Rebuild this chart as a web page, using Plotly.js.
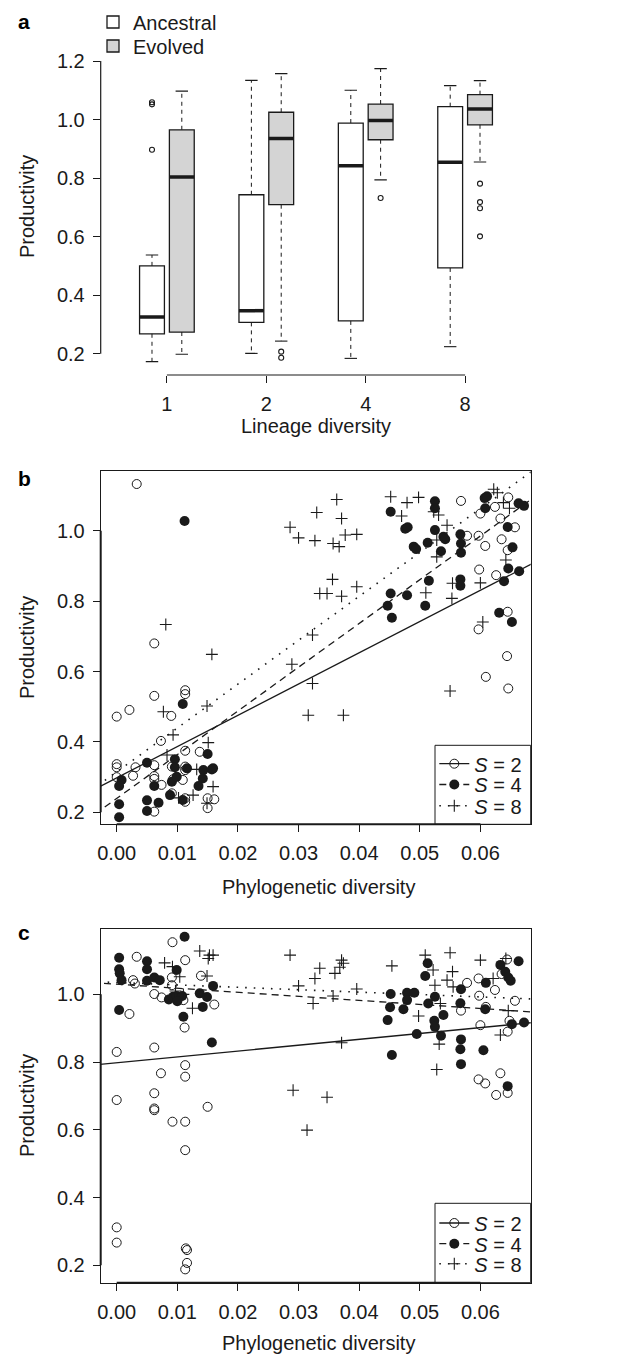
<!DOCTYPE html>
<html><head><meta charset="utf-8">
<script src="https://cdn.plot.ly/plotly-3.0.1.min.js"></script>
<style>html,body{margin:0;padding:0;background:#fff}#chart{width:619px;height:1355px}</style>
</head><body><div id="chart"></div>
<script>
// ---------------- Panel a: lineage diversity boxplots ----------------
const groupLabels = ['1', '2', '4', '8'];
const yTicksA = [0.2, 0.4, 0.6, 0.8, 1.0, 1.2];

const ancestralQ1     = [0.268, 0.307, 0.312, 0.493];
const ancestralMedian = [0.325, 0.347, 0.842, 0.854];
const ancestralQ3     = [0.500, 0.743, 0.988, 1.044];
const ancestralLow    = [0.173, 0.201, 0.184, 0.224];
const ancestralHigh   = [0.537, 1.134, 1.100, 1.116];
const ancestralOutGroup = ['1', '1', '1'];
const ancestralOutValue = [1.059, 1.052, 0.897];

const evolvedQ1     = [0.274, 0.709, 0.931, 0.982];
const evolvedMedian = [0.804, 0.935, 0.997, 1.036];
const evolvedQ3     = [0.965, 1.025, 1.053, 1.085];
const evolvedLow    = [0.198, 0.243, 0.794, 0.855];
const evolvedHigh   = [1.097, 1.157, 1.174, 1.133];
const evolvedOutGroup = ['2', '2', '4', '8', '8', '8', '8'];
const evolvedOutValue = [0.207, 0.186, 0.732, 0.781, 0.718, 0.697, 0.601];

// ---------------- Panel b ----------------
const xTicksPD = [0.00, 0.01, 0.02, 0.03, 0.04, 0.05, 0.06];
const yTicksBC = [0.2, 0.4, 0.6, 0.8, 1.0];

const bS2x = [0.0033, 0.0062, 0.0568, 0.0646, 0.0600, 0.0624, 0.0633, 0.0657, 0.0578, 0.0597, 0.0608, 0.0635, 0.0645, 0.0598, 0.0626, 0.0645, 0.0597, 0.0644, 0.0609, 0.0646,
  0.0000, 0.0021, 0.0062, 0.0113, 0.0113, 0.0090, 0.0073, 0.0000, 0.0000, 0.0031, 0.0027, 0.0000, 0.0113, 0.0137, 0.0062, 0.0062, 0.0062, 0.0074, 0.0091, 0.0113,
  0.0113, 0.0109, 0.0091, 0.0113, 0.0113, 0.0062, 0.0150, 0.0150, 0.0161, 0.0093];
const bS2y = [1.133, 0.680, 1.085, 1.095, 1.049, 1.068, 1.035, 1.010, 0.986, 0.986, 0.957, 0.976, 0.945, 0.890, 0.874, 0.770, 0.720, 0.644, 0.585, 0.552,
  0.472, 0.491, 0.531, 0.547, 0.536, 0.474, 0.403, 0.337, 0.328, 0.328, 0.304, 0.300, 0.375, 0.372, 0.334, 0.303, 0.295, 0.278, 0.330, 0.330,
  0.320, 0.292, 0.254, 0.240, 0.230, 0.202, 0.240, 0.212, 0.237, 0.294];

const bS4x = [0.0112, 0.0452, 0.0476, 0.0480, 0.0525, 0.0525, 0.0525, 0.0539, 0.0542, 0.0490, 0.0494, 0.0513, 0.0535, 0.0567, 0.0568, 0.0568, 0.0515, 0.0567, 0.0567, 0.0452,
  0.0479, 0.0447, 0.0509, 0.0454, 0.0607, 0.0611, 0.0608, 0.0663, 0.0672, 0.0645, 0.0653, 0.0646, 0.0664, 0.0639, 0.0631, 0.0652,
  0.0109, 0.0050, 0.0008, 0.0004, 0.0004, 0.0004, 0.0050, 0.0050, 0.0069, 0.0062, 0.0096, 0.0096, 0.0091, 0.0099, 0.0088, 0.0109, 0.0116, 0.0150, 0.0143, 0.0157,
  0.0142, 0.0135, 0.0159];
const bS4y = [1.028, 1.054, 1.006, 1.010, 1.084, 1.064, 1.002, 0.983, 0.976, 0.955, 0.948, 0.966, 0.942, 0.990, 0.964, 0.938, 0.858, 0.862, 0.844, 0.822,
  0.817, 0.787, 0.787, 0.753, 1.093, 1.098, 1.064, 1.078, 1.071, 1.011, 0.953, 0.893, 0.885, 0.857, 0.767, 0.741,
  0.508, 0.341, 0.292, 0.275, 0.223, 0.186, 0.234, 0.204, 0.227, 0.275, 0.351, 0.328, 0.287, 0.301, 0.249, 0.235, 0.325, 0.366, 0.320, 0.322,
  0.296, 0.275, 0.325];

const bS8x = [0.0286, 0.0300, 0.0081, 0.0157, 0.0289, 0.0363, 0.0330, 0.0371, 0.0327, 0.0357, 0.0367, 0.0377, 0.0396, 0.0452, 0.0479, 0.0498, 0.0470, 0.0531, 0.0523, 0.0545,
  0.0528, 0.0528, 0.0356, 0.0335, 0.0347, 0.0371, 0.0396, 0.0323, 0.0323, 0.0510, 0.0554, 0.0553, 0.0600, 0.0604, 0.0622, 0.0628, 0.0638, 0.0648, 0.0642,
  0.0149, 0.0077, 0.0093, 0.0151, 0.0083, 0.0132, 0.0159, 0.0126, 0.0102, 0.0149, 0.0316, 0.0374, 0.0550];
const bS8y = [1.010, 0.980, 0.734, 0.649, 0.621, 1.089, 1.052, 1.035, 0.972, 0.964, 0.955, 0.988, 0.990, 1.097, 1.080, 1.095, 1.042, 1.045, 1.054, 1.016,
  0.974, 0.926, 0.862, 0.822, 0.822, 0.814, 0.841, 0.704, 0.566, 0.824, 0.851, 0.808, 0.852, 0.741, 1.118, 1.108, 1.080, 1.064, 0.917,
  0.502, 0.486, 0.420, 0.398, 0.363, 0.322, 0.273, 0.249, 0.241, 0.226, 0.476, 0.476, 0.545];

// fitted lines (intercept at PD = 0, slope) for S = 2, 4, 8
const bLineIntercept = [0.298, 0.2395, 0.315];
const bLineSlope     = [8.88, 12.43, 12.47];

// ---------------- Panel c ----------------
const cS2x = [0.0092, 0.0033, 0.0113, 0.0027, 0.0030, 0.0091, 0.0091, 0.0062, 0.0074, 0.0110, 0.0139, 0.0161, 0.0021, 0.0112, 0.0000, 0.0062, 0.0113, 0.0113, 0.0073, 0.0062,
  0.0062, 0.0062, 0.0000, 0.0150, 0.0092, 0.0113, 0.0113, 0.0000, 0.0000, 0.0114, 0.0116, 0.0116, 0.0113,
  0.0578, 0.0597, 0.0624, 0.0598, 0.0568, 0.0609, 0.0600, 0.0657, 0.0644, 0.0635, 0.0648, 0.0645, 0.0597, 0.0608, 0.0633, 0.0626, 0.0645];
const cS2y = [1.154, 1.111, 1.101, 1.042, 1.032, 1.050, 1.027, 1.001, 0.991, 0.983, 1.055, 0.970, 0.942, 0.902, 0.830, 0.843, 0.791, 0.757, 0.767, 0.708,
  0.663, 0.658, 0.688, 0.668, 0.624, 0.624, 0.540, 0.312, 0.267, 0.250, 0.245, 0.207, 0.188,
  1.034, 1.047, 1.013, 0.996, 0.952, 0.963, 0.909, 0.981, 1.103, 1.060, 0.922, 0.890, 0.749, 0.737, 0.767, 0.703, 0.709];

const cS4x = [0.0112, 0.0004, 0.0004, 0.0005, 0.0008, 0.0050, 0.0050, 0.0050, 0.0062, 0.0071, 0.0099, 0.0093, 0.0086, 0.0099, 0.0108, 0.0100, 0.0110, 0.0004, 0.0137, 0.0149,
  0.0142, 0.0159, 0.0157,
  0.0513, 0.0509, 0.0452, 0.0451, 0.0447, 0.0479, 0.0491, 0.0479, 0.0473, 0.0514, 0.0525, 0.0524, 0.0525, 0.0539, 0.0495, 0.0535, 0.0568, 0.0567, 0.0568, 0.0567,
  0.0568, 0.0454, 0.0605, 0.0609, 0.0608, 0.0633, 0.0641, 0.0646, 0.0650, 0.0663, 0.0652, 0.0672, 0.0645];
const cS4y = [1.170, 1.108, 1.074, 1.062, 1.042, 1.098, 1.074, 1.040, 1.050, 1.042, 1.072, 0.993, 0.985, 0.995, 0.995, 0.980, 0.934, 0.954, 1.003, 0.992,
  0.963, 1.025, 0.858,
  1.092, 1.054, 1.001, 0.962, 0.924, 1.005, 1.005, 0.983, 0.956, 0.973, 0.993, 0.922, 0.904, 0.939, 0.883, 0.878, 1.015, 0.974, 0.867, 0.838,
  0.794, 0.821, 0.835, 1.034, 0.956, 1.087, 1.067, 1.050, 1.040, 1.098, 0.912, 0.917, 0.729];

const cS8x = [0.0137, 0.0153, 0.0159, 0.0151, 0.0079, 0.0092, 0.0149, 0.0104, 0.0125, 0.0286, 0.0291, 0.0314, 0.0300, 0.0097, 0.0110,
  0.0371, 0.0374, 0.0368, 0.0335, 0.0327, 0.0360, 0.0454, 0.0396, 0.0357, 0.0324, 0.0509, 0.0550, 0.0600, 0.0522, 0.0554, 0.0545, 0.0525, 0.0555,
  0.0621, 0.0642, 0.0534, 0.0498, 0.0532, 0.0528, 0.0371, 0.0347, 0.0633, 0.0646];
const cS8y = [1.128, 1.116, 1.116, 1.106, 1.093, 1.082, 1.054, 1.052, 0.959, 1.116, 0.717, 0.599, 1.025, 1.010, 1.000,
  1.101, 1.092, 1.080, 1.077, 1.047, 1.062, 1.084, 1.016, 0.995, 0.973, 1.116, 1.123, 1.101, 1.072, 1.067, 1.042, 1.027, 1.022,
  1.047, 1.106, 0.973, 0.936, 0.853, 0.778, 0.857, 0.696, 0.880, 0.952];

const cLineIntercept = [0.798, 1.030, 1.035];
const cLineSlope     = [1.73, -1.195, -0.71];

const seriesNames = ['<i>S</i> = 2', '<i>S</i> = 4', '<i>S</i> = 8'];

// ---------------- drawing ----------------
const FONT = 'Liberation Sans, Arial, Helvetica, sans-serif';
const INK = '#1a1a1a';
const W = 619, H = 1355;
const px = p => p / W;
const py = p => 1 - p / H;

const pos = groupLabels.map((_, i) => i + 1);
const posOf = g => groupLabels.indexOf(g) + 1;
const OFF = 0.15, BOXW = 0.25, CAP = 0.0625;

function vSegs(xs, a, b) {
  const X = [], Y = [];
  xs.forEach((x, i) => { X.push(x, x, null); Y.push(a[i], b[i], null); });
  return {X, Y};
}
function hSegs(xs, half, v) {
  const X = [], Y = [];
  xs.forEach((x, i) => { X.push(x - half, x + half, null); Y.push(v[i], v[i], null); });
  return {X, Y};
}

const traces = [];
const boxSets = [
  {name: 'Ancestral', fill: '#ffffff', shift: -OFF, q1: ancestralQ1, med: ancestralMedian, q3: ancestralQ3, lo: ancestralLow, hi: ancestralHigh, og: ancestralOutGroup, ov: ancestralOutValue, legend: 'legend'},
  {name: 'Evolved', fill: '#d4d4d4', shift: OFF, q1: evolvedQ1, med: evolvedMedian, q3: evolvedQ3, lo: evolvedLow, hi: evolvedHigh, og: evolvedOutGroup, ov: evolvedOutValue, legend: 'legend4'}
];
boxSets.forEach(s => {
  const xs = pos.map(p => p + s.shift);
  const wu = vSegs(xs, s.q3, s.hi), wl = vSegs(xs, s.q1, s.lo);
  traces.push({type: 'scatter', mode: 'lines', x: wu.X.concat(wl.X), y: wu.Y.concat(wl.Y), xaxis: 'x', yaxis: 'y',
    line: {color: INK, width: 1, dash: '4px,4px'}, showlegend: false, hoverinfo: 'skip'});
  const cu = hSegs(xs, CAP, s.hi), cl = hSegs(xs, CAP, s.lo);
  traces.push({type: 'scatter', mode: 'lines', x: cu.X.concat(cl.X), y: cu.Y.concat(cl.Y), xaxis: 'x', yaxis: 'y',
    line: {color: INK, width: 1.1}, showlegend: false, hoverinfo: 'skip'});
});
boxSets.forEach(s => {
  const xs = pos.map(p => p + s.shift);
  traces.push({type: 'box', name: s.name, x: xs, q1: s.q1, median: s.med, q3: s.q3, lowerfence: s.q1, upperfence: s.q3,
    width: BOXW, whiskerwidth: 0, fillcolor: s.fill, line: {color: INK, width: 1.3}, boxpoints: false,
    xaxis: 'x', yaxis: 'y', legend: s.legend, hoverinfo: 'skip'});
  const m = hSegs(xs, BOXW / 2, s.med);
  traces.push({type: 'scatter', mode: 'lines', x: m.X, y: m.Y, xaxis: 'x', yaxis: 'y',
    line: {color: INK, width: 3.5}, showlegend: false, hoverinfo: 'skip'});
  traces.push({type: 'scatter', mode: 'markers', x: s.og.map(g => posOf(g) + s.shift), y: s.ov, xaxis: 'x', yaxis: 'y',
    marker: {symbol: 'circle-open', size: 5, color: INK, line: {width: 1.1, color: INK}}, showlegend: false, hoverinfo: 'skip'});
});

const markerStyles = [
  {symbol: 'circle-open', size: 9, color: INK, line: {width: 1, color: INK}},
  {symbol: 'circle', size: 10, color: INK, line: {width: 0}},
  {symbol: 'cross-thin-open', size: 8.5, color: INK, line: {width: 1.1, color: INK}}
];
const lineStyles = [
  {color: INK, width: 1.3, dash: 'solid'},
  {color: INK, width: 1.3, dash: '7px,5px'},
  {color: INK, width: 1.6, dash: '1.6px,7px'}
];

function panel(xa, ya, sets, intercepts, slopes, legends) {
  sets.forEach((s, i) => {
    traces.push({type: 'scatter', mode: 'markers', x: s[0], y: s[1], xaxis: xa, yaxis: ya,
      marker: markerStyles[i], showlegend: false, hoverinfo: 'skip'});
  });
  sets.forEach((s, i) => {
    const ends = [-0.01, 0.08];
    traces.push({type: 'scatter', mode: 'lines+markers', name: seriesNames[i], x: ends, y: ends.map(e => intercepts[i] + slopes[i] * e),
      xaxis: xa, yaxis: ya, line: lineStyles[i], marker: markerStyles[i], legend: legends[i], hoverinfo: 'skip', cliponaxis: true});
  });
}
panel('x2', 'y2', [[bS2x, bS2y], [bS4x, bS4y], [bS8x, bS8y]], bLineIntercept, bLineSlope, ['legend2', 'legend5', 'legend6']);
panel('x3', 'y3', [[cS2x, cS2y], [cS4x, cS4y], [cS8x, cS8y]], cLineIntercept, cLineSlope, ['legend3', 'legend7', 'legend8']);

const tickFont = {family: FONT, size: 20, color: INK};
const axBase = {showgrid: false, zeroline: false, ticks: 'outside', ticklen: 7, tickwidth: 1, tickcolor: INK,
  tickfont: tickFont, fixedrange: true, showline: false, ticklabelstandoff: 4};
const boxAx = {showline: true, mirror: true, linecolor: INK, linewidth: 1};

const DOM_X = [px(100.7), px(530.7)];
const layout = {
  width: W, height: H, margin: {l: 0, r: 0, t: 0, b: 0},
  paper_bgcolor: '#fff', plot_bgcolor: 'rgba(0,0,0,0)', font: {family: FONT, color: INK},
  showlegend: true,
  xaxis: Object.assign({}, axBase, {domain: [px(100.7), px(531.3)], range: [0.334, 4.666], tickmode: 'array', tickvals: pos, ticktext: groupLabels, anchor: 'y'}),
  yaxis: Object.assign({}, axBase, {domain: [py(375), py(57)], range: [0.1272, 1.2137], tickmode: 'array', tickvals: yTicksA, ticktext: yTicksA.map(v => v.toFixed(1)), anchor: 'x'}),
  xaxis2: Object.assign({}, axBase, boxAx, {domain: DOM_X, range: [-0.00264, 0.0683], tickmode: 'array', tickvals: xTicksPD, ticktext: xTicksPD.map(v => v.toFixed(2)), anchor: 'y2'}),
  yaxis2: Object.assign({}, axBase, boxAx, {domain: [py(824.3), py(471)], range: [0.166, 1.170], tickmode: 'array', tickvals: yTicksBC, ticktext: yTicksBC.map(v => v.toFixed(1)), anchor: 'x2'}),
  xaxis3: Object.assign({}, axBase, boxAx, {domain: DOM_X, range: [-0.00264, 0.0683], tickmode: 'array', tickvals: xTicksPD, ticktext: xTicksPD.map(v => v.toFixed(2)), anchor: 'y3'}),
  yaxis3: Object.assign({}, axBase, boxAx, {domain: [py(1282.7), py(929)], range: [0.1486, 1.193], tickmode: 'array', tickvals: yTicksBC, ticktext: yTicksBC.map(v => v.toFixed(1)), anchor: 'x3'}),
  shapes: [],
  annotations: []
};

// legends
const legFont = {family: FONT, size: 20, color: INK};
function leg(xPix, yPix) {
  return {x: px(xPix), xanchor: 'left', y: py(yPix), yanchor: 'middle', bgcolor: 'rgba(0,0,0,0)', borderwidth: 0,
    font: legFont, itemclick: false, itemdoubleclick: false};
}
layout.legend = leg(93, 22);
layout.legend4 = leg(93, 46);
layout.legend2 = leg(434.3, 763.7); layout.legend5 = leg(434.3, 784.5); layout.legend6 = leg(434.3, 805.8);
layout.legend3 = leg(434.3, 1223); layout.legend7 = leg(434.3, 1243.7); layout.legend8 = leg(434.3, 1263.7);

// legend frames (b, c)
[[745.3, 824.3], [1203.3, 1282.7]].forEach(([t, b]) => {
  layout.shapes.push({type: 'rect', xref: 'paper', yref: 'paper', x0: px(435), x1: px(530.7), y0: py(b), y1: py(t),
    line: {color: INK, width: 1}, fillcolor: 'rgba(0,0,0,0)', layer: 'above'});
});

// R-style axis lines spanning first to last tick
layout.shapes.push({type: 'line', xref: 'x', yref: 'y domain', x0: pos[0], x1: pos[pos.length - 1], y0: 0, y1: 0, line: {color: INK, width: 1.2}});
layout.shapes.push({type: 'line', xref: 'x domain', yref: 'y', x0: 0, x1: 0, y0: yTicksA[0], y1: yTicksA[yTicksA.length - 1], line: {color: INK, width: 1.2}});
[['x2', 'y2'], ['x3', 'y3']].forEach(([xa, ya]) => {
  layout.shapes.push({type: 'line', xref: xa, yref: ya + ' domain', x0: xTicksPD[0], x1: xTicksPD[xTicksPD.length - 1], y0: 0, y1: 0, line: {color: INK, width: 2}});
  layout.shapes.push({type: 'line', xref: xa + ' domain', yref: ya, x0: 0, x1: 0, y0: yTicksBC[0], y1: yTicksBC[yTicksBC.length - 1], line: {color: INK, width: 2}});
});

// annotations: panel letters and axis titles
const titleFont = {family: FONT, size: 20, color: INK};
function ann(text, xPix, yPix, extra) {
  return Object.assign({text: text, xref: 'paper', yref: 'paper', x: px(xPix), y: py(yPix), showarrow: false,
    xanchor: 'center', yanchor: 'middle', font: titleFont}, extra || {});
}
layout.annotations.push(ann('<b>a</b>', 16, 21, {xanchor: 'left', font: {family: FONT, size: 21, color: '#000'}}));
layout.annotations.push(ann('<b>b</b>', 16, 478, {xanchor: 'left', font: {family: FONT, size: 21, color: '#000'}}));
layout.annotations.push(ann('<b>c</b>', 16, 932, {xanchor: 'left', font: {family: FONT, size: 21, color: '#000'}}));
layout.annotations.push(ann('Productivity', 27, 207, {textangle: -90}));
layout.annotations.push(ann('Productivity', 27, 648, {textangle: -90}));
layout.annotations.push(ann('Productivity', 27, 1106, {textangle: -90}));
layout.annotations.push(ann('Lineage diversity', 316, 426));
layout.annotations.push(ann('Phylogenetic diversity', 318, 887));
layout.annotations.push(ann('Phylogenetic diversity', 318, 1343));

Plotly.newPlot('chart', traces, layout, {displayModeBar: false, staticPlot: true});
</script></body></html>
